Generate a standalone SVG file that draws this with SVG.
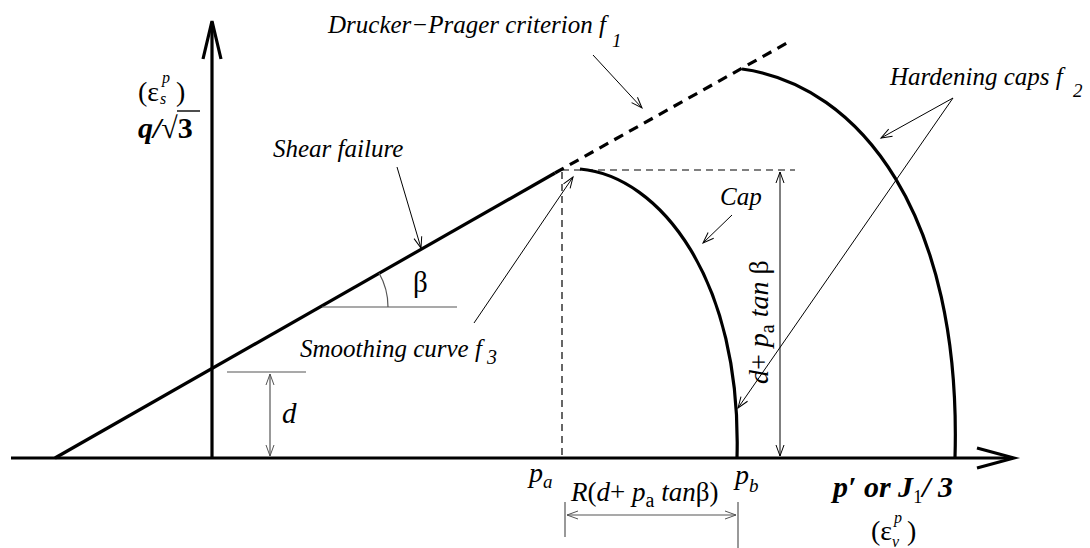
<svg xmlns="http://www.w3.org/2000/svg" width="1090" height="548" viewBox="0 0 1090 548">
<defs>
<style>
text{font-family:"Liberation Serif","Times New Roman",serif;fill:#000}
.it{font-style:italic}
.bi{font-style:italic;font-weight:bold}
.lab{font-size:25px;font-style:italic}
.thick{stroke:#000;stroke-width:3.2;fill:none}
.thin{stroke:#000;stroke-width:1;fill:none}
.gray{stroke:#555;stroke-width:1.2;fill:none}
.dash{stroke:#000;stroke-width:1.2;stroke-dasharray:7 5;fill:none}
.bdash{stroke:#000;stroke-width:3.2;stroke-dasharray:10 7;fill:none}
</style>
<marker id="ah" markerUnits="userSpaceOnUse" markerWidth="14" markerHeight="10" viewBox="-12 -5 14 10" refX="0" refY="0" orient="auto-start-reverse">
<path d="M-11,-4 L0,0 L-11,4" fill="none" stroke="#000" stroke-width="1"/>
</marker>
<marker id="ahg" markerUnits="userSpaceOnUse" markerWidth="14" markerHeight="10" viewBox="-12 -5 14 10" refX="0" refY="0" orient="auto-start-reverse">
<path d="M-11,-4 L0,0 L-11,4" fill="none" stroke="#555" stroke-width="1"/>
</marker>
</defs>
<rect width="1090" height="548" fill="#fff"/>

<g id="axes">
<line class="thick" x1="11" y1="458" x2="1013" y2="458"/>
<polyline class="thick" points="977,448 1014,458 977,468"/>
<line class="thick" x1="212" y1="458" x2="212" y2="22"/>
<polyline class="thick" points="203,59 212,21 221,59"/>
</g>

<g id="shear-line">
<line class="thick" x1="55" y1="458" x2="555" y2="173"/>
<line class="bdash" x1="555" y1="173" x2="787" y2="43"/>
</g>

<g id="guides">
<line class="dash" x1="562" y1="172" x2="562" y2="458"/>
<line class="dash" x1="562" y1="170" x2="795" y2="170"/>
</g>

<g id="cap">
<path class="thick" d="M580,169 C660,176 742,280 737,458"/>
</g>
<g id="hardening-cap">
<path class="thick" d="M742,69 C860,85 962,215 955,458"/>
</g>

<g id="beta-angle">
<line class="gray" x1="322" y1="307" x2="457" y2="307"/>
<path class="gray" d="M388,307 A68,68 0 0 0 379,273"/>
</g>

<g id="connectors">
<line class="thin" x1="593" y1="55" x2="642" y2="108" marker-end="url(#ah)"/>
<line class="thin" x1="397" y1="167" x2="421" y2="248" marker-end="url(#ah)"/>
<line class="thin" x1="474" y1="323" x2="573" y2="177" marker-end="url(#ah)"/>
<line class="thin" x1="732" y1="215" x2="703" y2="243" marker-end="url(#ah)"/>
<line class="thin" x1="953" y1="98" x2="881" y2="138" marker-end="url(#ah)"/>
<line class="thin" x1="953" y1="98" x2="738" y2="408" marker-end="url(#ah)"/>
<line class="thin" x1="780" y1="172" x2="780" y2="456" marker-start="url(#ah)" marker-end="url(#ah)"/>
<line class="gray" x1="227" y1="372" x2="306" y2="372"/>
<line class="gray" x1="270" y1="374" x2="270" y2="456" marker-start="url(#ahg)" marker-end="url(#ahg)"/>
<line class="gray" x1="565" y1="502" x2="565" y2="537"/>
<line class="gray" x1="738" y1="502" x2="738" y2="548"/>
<line class="gray" x1="567" y1="515" x2="736" y2="515" marker-start="url(#ahg)" marker-end="url(#ahg)"/>
</g>

<g id="labels">
<text class="lab" x="328" y="33">Drucker−Prager criterion f<tspan x="612" y="47" font-size="19">1</tspan></text>
<text class="lab" x="890" y="85">Hardening caps f<tspan x="1073" y="97" font-size="19">2</tspan></text>
<text class="lab" x="273" y="157">Shear failure</text>
<text class="lab" x="300" y="357">Smoothing curve f<tspan x="487" y="364" font-size="20">3</tspan></text>
<text class="lab" x="720" y="205">Cap</text>
<text x="413" y="292" font-size="29">β</text>
<text class="it" x="282" y="423" font-size="29">d</text>
<text transform="translate(768,384) rotate(-90)" font-size="28"><tspan class="it">d</tspan>+ <tspan class="it">p</tspan><tspan font-size="20" dy="6">a</tspan><tspan dy="-6" class="it"> tan</tspan> β</text>
<text x="529" y="482" font-size="28" class="it">p<tspan font-size="19" dy="6">a</tspan></text>
<text x="735" y="484" font-size="28" class="it">p<tspan font-size="19" dy="8">b</tspan></text>
<text x="571" y="501" font-size="27"><tspan class="it">R</tspan>(<tspan class="it">d</tspan>+ <tspan class="it">p</tspan><tspan font-size="20" dy="6">a</tspan><tspan dy="-6" class="it"> tan</tspan>β)</text>
<text x="833" y="497" font-size="30" class="bi">p′ or J<tspan font-size="18" font-weight="normal" font-style="normal" dy="6">1</tspan><tspan dy="-6">/ 3</tspan></text>
<text x="871" y="540" font-size="28">(ε<tspan class="it" font-size="16" x="894" y="523">p</tspan><tspan class="it" font-size="16" x="892" y="547">v</tspan><tspan x="907" y="540">)</tspan></text>
<text x="138" y="101" font-size="28">(ε<tspan class="it" font-size="16" x="162" y="83">p</tspan><tspan class="it" font-size="16" x="160" y="104">s</tspan><tspan x="176" y="101">)</tspan></text>
<text x="138" y="138" font-size="30" class="bi">q/<tspan font-weight="normal" font-style="normal">√</tspan><tspan font-style="normal">3</tspan></text>
<line x1="177" y1="111" x2="200" y2="111" stroke="#000" stroke-width="1.4"/>
</g>
</svg>
